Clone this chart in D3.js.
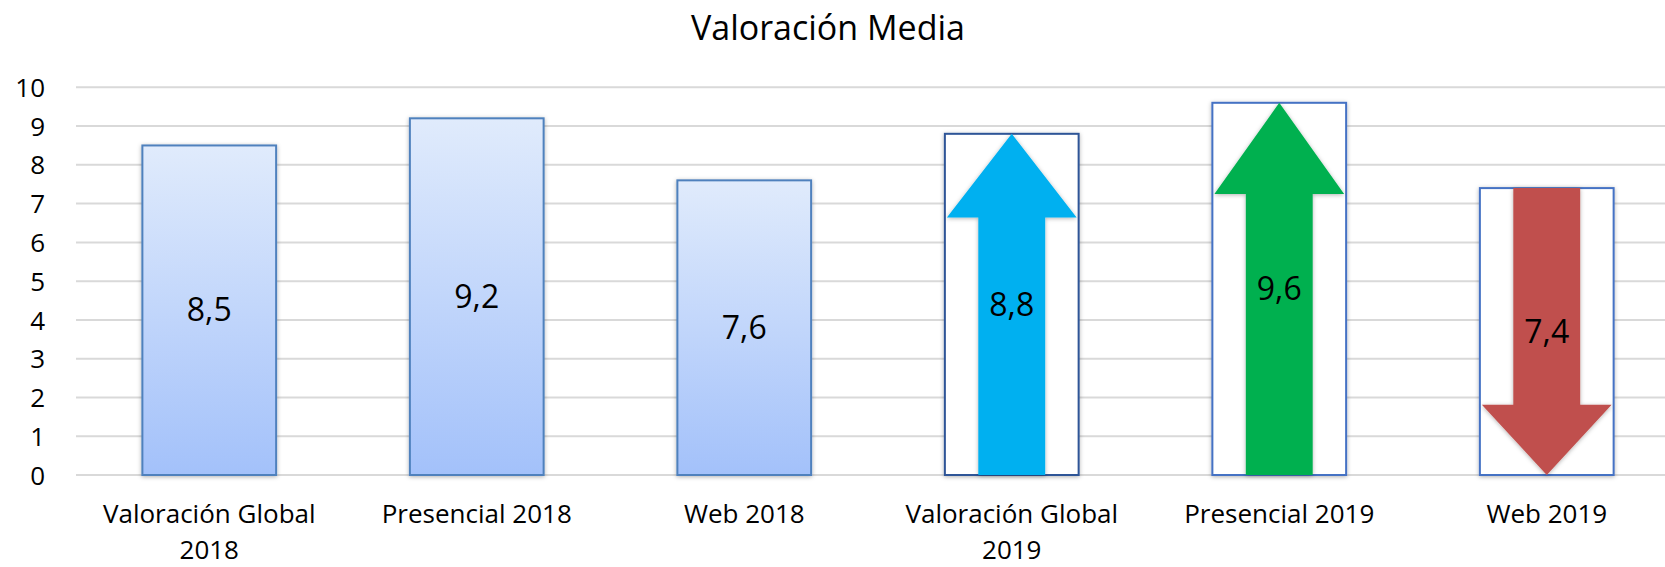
<!DOCTYPE html>
<html>
<head>
<meta charset="utf-8">
<script src="https://cdn.jsdelivr.net/npm/d3@7"></script>
<style>
  html, body { margin: 0; padding: 0; background: #fff; }
  svg { display: block; font-family: "Open Sans", "Noto Sans", sans-serif; }
</style>
</head>
<body>
<svg id="chart" width="1665" height="567"></svg>
<script>
// ---- data ----
const title = "Valoración Media";
const categories = [
  ["Valoración Global", "2018"],
  ["Presencial 2018"],
  ["Web 2018"],
  ["Valoración Global", "2019"],
  ["Presencial 2019"],
  ["Web 2019"]
];
const values = [8.5, 9.2, 7.6, 8.8, 9.6, 7.4];
const valueLabels = ["8,5", "9,2", "7,6", "8,8", "9,6", "7,4"];
const yTicks = [0, 1, 2, 3, 4, 5, 6, 7, 8, 9, 10];
// arrow colours for the 2019 bars (null = plain gradient bar)
const arrowColors = [null, null, null, "#00B0F0", "#00B050", "#C0504D"];
const frameColors = ["#4F81BD", "#4F81BD", "#4F81BD", "#2F5597", "#4472C4", "#4472C4"];

// ---- layout ----
const svg = d3.select("#chart");
const yBottom = 475, yTop = 87.3;
const x = d3.scaleBand()
  .domain(d3.range(categories.length))
  .range([75.5, 1680.5])
  .paddingInner(0.5)
  .paddingOuter(0.25);
const y = d3.scaleLinear().domain([0, 10]).range([yBottom, yTop]);

const defs = svg.append("defs");
const grad = defs.append("linearGradient")
  .attr("id", "barGrad").attr("x1", 0).attr("y1", 0).attr("x2", 0).attr("y2", 1);
grad.append("stop").attr("offset", "0%").attr("stop-color", "#E0EBFC");
grad.append("stop").attr("offset", "100%").attr("stop-color", "#A3C1FA");

const shadow = defs.append("filter").attr("id", "shadow")
  .attr("x", "-20%").attr("y", "-20%").attr("width", "140%").attr("height", "140%");
shadow.append("feDropShadow")
  .attr("dx", 0).attr("dy", 1).attr("stdDeviation", 2)
  .attr("flood-color", "#000").attr("flood-opacity", 0.3);

// title
svg.append("text")
  .attr("x", 828).attr("y", 40)
  .attr("text-anchor", "middle")
  .attr("font-size", 34)
  .attr("fill", "#000")
  .text(title);

// gridlines
svg.append("g").selectAll("line").data(yTicks).join("line")
  .attr("x1", 76).attr("x2", 1665)
  .attr("y1", d => y(d)).attr("y2", d => y(d))
  .attr("stroke", "#D9D9D9").attr("stroke-width", 2);

// y axis labels
const yAxis = d3.axisLeft(y).tickValues(yTicks).tickSize(0).tickPadding(0).tickFormat(d3.format("d"));
const yg = svg.append("g").attr("transform", "translate(45,0)").call(yAxis);
yg.select(".domain").remove();
yg.selectAll("text")
  .attr("font-family", "Open Sans, Noto Sans, sans-serif")
  .attr("font-size", 26)
  .attr("fill", "#000")
  .attr("dy", "0.35em");

// bars
const bars = svg.append("g").selectAll("g").data(values).join("g");

bars.append("rect")
  .attr("x", (d, i) => x(i))
  .attr("y", d => y(d))
  .attr("width", x.bandwidth())
  .attr("height", d => y(0) - y(d))
  .attr("fill", (d, i) => arrowColors[i] ? "#fff" : "url(#barGrad)")
  .attr("stroke", (d, i) => frameColors[i])
  .attr("stroke-width", 2)
  .attr("filter", "url(#shadow)");

// arrows
bars.filter((d, i) => arrowColors[i] !== null)
  .append("path")
  .attr("fill", (d, i) => arrowColors[i + 3])
  .attr("filter", "url(#shadow)")
  .attr("d", function (d) {
    const i = values.indexOf(d);
    const x0 = x(i) + 2, w = x.bandwidth() - 4;
    const cx = x0 + w / 2, sw = x.bandwidth() / 4;
    const top = y(d), bot = y(0);
    const hh = 0.245 * (bot - top);
    const up = d >= values[i - 3];
    if (up) {
      return `M${cx},${top} L${x0 + w},${top + hh} L${cx + sw},${top + hh} L${cx + sw},${bot} ` +
             `L${cx - sw},${bot} L${cx - sw},${top + hh} L${x0},${top + hh} Z`;
    } else {
      return `M${cx - sw},${top} L${cx + sw},${top} L${cx + sw},${bot - hh} L${x0 + w},${bot - hh} ` +
             `L${cx},${bot} L${x0},${bot - hh} L${cx - sw},${bot - hh} Z`;
    }
  });

// value labels
bars.append("text")
  .attr("x", (d, i) => x(i) + x.bandwidth() / 2)
  .attr("y", d => (y(d) + y(0)) / 2)
  .attr("dy", "0.35em")
  .attr("text-anchor", "middle")
  .attr("font-size", 32)
  .attr("fill", "#000")
  .text((d, i) => valueLabels[i]);

// category labels
const cat = svg.append("g").selectAll("text").data(categories).join("text")
  .attr("x", (d, i) => x(i) + x.bandwidth() / 2)
  .attr("y", 523)
  .attr("text-anchor", "middle")
  .attr("font-size", 26)
  .attr("fill", "#000");
cat.selectAll("tspan").data(d => d).join("tspan")
  .attr("x", function () { return d3.select(this.parentNode).attr("x"); })
  .attr("dy", (d, j) => j === 0 ? 0 : 36)
  .text(d => d);
</script>
</body>
</html>
